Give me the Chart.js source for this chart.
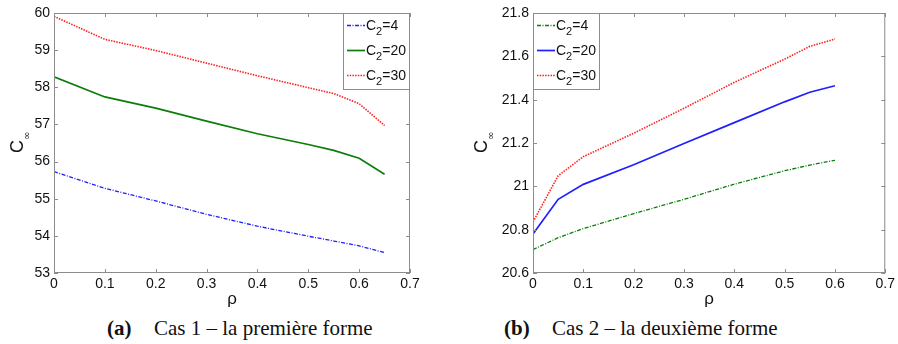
<!DOCTYPE html>
<html>
<head>
<meta charset="utf-8">
<script src="https://cdn.jsdelivr.net/npm/chart.js@4.4.1/dist/chart.umd.min.js"></script>
<style>
  body { margin: 0; background: #fff; width: 898px; height: 344px; position: relative; overflow: hidden; }
  .panel { position: absolute; top: 0; }
  .cap { position: absolute; top: 316px; font-family: "Liberation Serif", "Times New Roman", serif; font-size: 21px; color: #111; white-space: nowrap; }
</style>
</head>
<body>
<div class="panel" style="left:0"><canvas id="chartA" width="450" height="312"></canvas></div>
<div class="panel" style="left:450px"><canvas id="chartB" width="448" height="312"></canvas></div>
<div class="cap" style="left:107px"><b>(a)</b></div>
<div class="cap" style="left:154px">Cas 1 – la première forme</div>
<div class="cap" style="left:504px"><b>(b)</b></div>
<div class="cap" style="left:552px">Cas 2 – la deuxième forme</div>
<script>
// Cas 1 (a)
const rhoA = [0, 0.1, 0.2, 0.3, 0.4, 0.5, 0.55, 0.6, 0.65];
const casA_c4 = [55.73, 55.28, 54.94, 54.58, 54.26, 53.99, 53.86, 53.73, 53.55];
const casA_c20 = [58.28, 57.74, 57.44, 57.09, 56.75, 56.46, 56.30, 56.09, 55.66];
const casA_c30 = [59.91, 59.29, 58.99, 58.65, 58.31, 57.99, 57.83, 57.56, 56.97];

// Cas 2 (b)
const rhoB = [0, 0.05, 0.1, 0.2, 0.3, 0.4, 0.5, 0.55, 0.6];
const casB_c4 = [20.708, 20.763, 20.805, 20.874, 20.94, 21.01, 21.072, 21.098, 21.12];
const casB_c20 = [20.78, 20.94, 21.009, 21.10, 21.198, 21.294, 21.39, 21.434, 21.464];
const casB_c30 = [20.836, 21.049, 21.137, 21.245, 21.36, 21.48, 21.587, 21.646, 21.68];

const c2Values = ['4', '20', '30'];
const xRange = [0, 0.7, 0.1];
const yRangeA = [53, 60, 1];
const yRangeB = [20.6, 21.8, 0.2];

const tickFont = { family: '"Liberation Sans", Arial, sans-serif', size: 14 };
const frameColor = '#8c8c8c';

const styles = {
  dashdot: { borderDash: [4, 1.5, 1, 1.5], borderWidth: 1.3 },
  solid: { borderDash: [], borderWidth: 1.7 },
  dotted: { borderDash: [1.5, 1.2], borderWidth: 1.6 },
};

const toPoints = (xs, ys) => xs.map((x, i) => ({ x, y: ys[i] }));
const cleanTick = (v) => String(parseFloat(Number(v).toFixed(2)));

// box + inward ticks on all four sides, like the matlab figure
const matlabFrame = {
  id: 'matlabFrame',
  afterDatasetsDraw(chart) {
    const { ctx, chartArea: a, scales } = chart;
    ctx.save();
    ctx.strokeStyle = frameColor;
    ctx.lineWidth = 1;
    ctx.strokeRect(a.left + 0.5, a.top + 0.5, a.width - 1, a.height - 1);
    const len = 4;
    ctx.beginPath();
    scales.x.ticks.forEach((t) => {
      const px = Math.round(scales.x.getPixelForValue(t.value)) + 0.5;
      ctx.moveTo(px, a.bottom); ctx.lineTo(px, a.bottom - len);
      ctx.moveTo(px, a.top); ctx.lineTo(px, a.top + len);
    });
    scales.y.ticks.forEach((t) => {
      const py = Math.round(scales.y.getPixelForValue(t.value)) + 0.5;
      ctx.moveTo(a.left, py); ctx.lineTo(a.left + len, py);
      ctx.moveTo(a.right, py); ctx.lineTo(a.right - len, py);
    });
    ctx.stroke();
    ctx.restore();
  },
};

const boxLegend = {
  id: 'boxLegend',
  afterDraw(chart, args, opts) {
    const { ctx, chartArea: a } = chart;
    const w = 67, h = 77;
    const x0 = opts.side === 'right' ? a.right - w : a.left;
    const y0 = a.top;
    ctx.save();
    ctx.fillStyle = '#fff';
    ctx.fillRect(x0, y0, w, h);
    ctx.strokeStyle = frameColor;
    ctx.lineWidth = 1;
    ctx.strokeRect(x0 + 0.5, y0 + 0.5, w - 1, h - 1);
    chart.data.datasets.forEach((ds, i) => {
      const cy = y0 + 12 + i * 25;
      ctx.strokeStyle = ds.borderColor;
      ctx.lineWidth = ds.borderWidth;
      ctx.setLineDash(ds.borderDash);
      ctx.beginPath();
      ctx.moveTo(x0 + 4, cy + 0.5);
      ctx.lineTo(x0 + 22, cy + 0.5);
      ctx.stroke();
      ctx.setLineDash([]);
      ctx.fillStyle = '#111';
      ctx.textBaseline = 'alphabetic';
      ctx.font = '14px "Liberation Sans", Arial, sans-serif';
      let tx = x0 + 23;
      ctx.fillText('C', tx, cy + 5);
      tx += ctx.measureText('C').width;
      ctx.font = '11px "Liberation Sans", Arial, sans-serif';
      ctx.fillText('2', tx, cy + 10);
      tx += ctx.measureText('2').width;
      ctx.font = '14px "Liberation Sans", Arial, sans-serif';
      ctx.fillText('=' + c2Values[i], tx, cy + 5);
    });
    ctx.restore();
  },
};

// axis titles: rho below, C with a small infinity subscript on the left
const axisTitles = {
  id: 'axisTitles',
  afterDraw(chart, args, opts) {
    const { ctx, chartArea: a } = chart;
    ctx.save();
    ctx.fillStyle = '#111';
    ctx.textAlign = 'center';
    ctx.textBaseline = 'alphabetic';
    ctx.font = '17px "Liberation Sans", Arial, sans-serif';
    ctx.fillText('ρ', (a.left + a.right) / 2, 304);
    ctx.translate(a.left + opts.yTitleOffset, (a.top + a.bottom) / 2 + 4);
    ctx.rotate(-Math.PI / 2);
    ctx.textAlign = 'left';
    ctx.font = '18px "Liberation Sans", Arial, sans-serif';
    ctx.fillText('C', -6, 0);
    ctx.font = '10px "DejaVu Sans", sans-serif';
    ctx.fillText('∞', 7, 7);
    ctx.restore();
  },
};

function buildChart(canvas, xs, series, colors, yRange, opts) {
  const kinds = ['dashdot', 'solid', 'dotted'];
  return new Chart(canvas, {
    type: 'line',
    data: {
      datasets: series.map((ys, i) => ({
        label: 'C2=' + c2Values[i],
        data: toPoints(xs, ys),
        borderColor: colors[i],
        ...styles[kinds[i]],
        pointRadius: 0,
        tension: 0,
        fill: false,
      })),
    },
    options: {
      responsive: false,
      animation: false,
      layout: { padding: { top: 13, right: opts.padRight, left: 0, bottom: 0 } },
      plugins: {
        legend: { display: false },
        tooltip: { enabled: false },
        boxLegend: { side: opts.legendSide },
        axisTitles: { yTitleOffset: opts.yTitleOffset },
      },
      scales: {
        x: {
          type: 'linear',
          min: xRange[0], max: xRange[1],
          ticks: { stepSize: xRange[2], font: tickFont, color: '#111', padding: 3, maxRotation: 0, callback: cleanTick },
          grid: { display: false, drawTicks: false },
          border: { display: false },
          afterFit: (s) => { s.height = 39; },
        },
        y: {
          min: yRange[0], max: yRange[1],
          ticks: { stepSize: yRange[2], font: tickFont, color: '#111', padding: 4, callback: cleanTick },
          grid: { display: false, drawTicks: false },
          border: { display: false },
          afterFit: (s) => { s.width = opts.yWidth; },
        },
      },
    },
    plugins: [matlabFrame, boxLegend, axisTitles],
  });
}

buildChart(document.getElementById('chartA'), rhoA, [casA_c4, casA_c20, casA_c30],
  ['#1f1fff', '#0a7d0a', '#ff2020'], yRangeA,
  { padRight: 40, yWidth: 54, legendSide: 'right', yTitleOffset: -31 });

buildChart(document.getElementById('chartB'), rhoB, [casB_c4, casB_c20, casB_c30],
  ['#0a7d0a', '#1f1fff', '#ff2020'], yRangeB,
  { padRight: 11, yWidth: 83, legendSide: 'left', yTitleOffset: -46 });
</script>
</body>
</html>
